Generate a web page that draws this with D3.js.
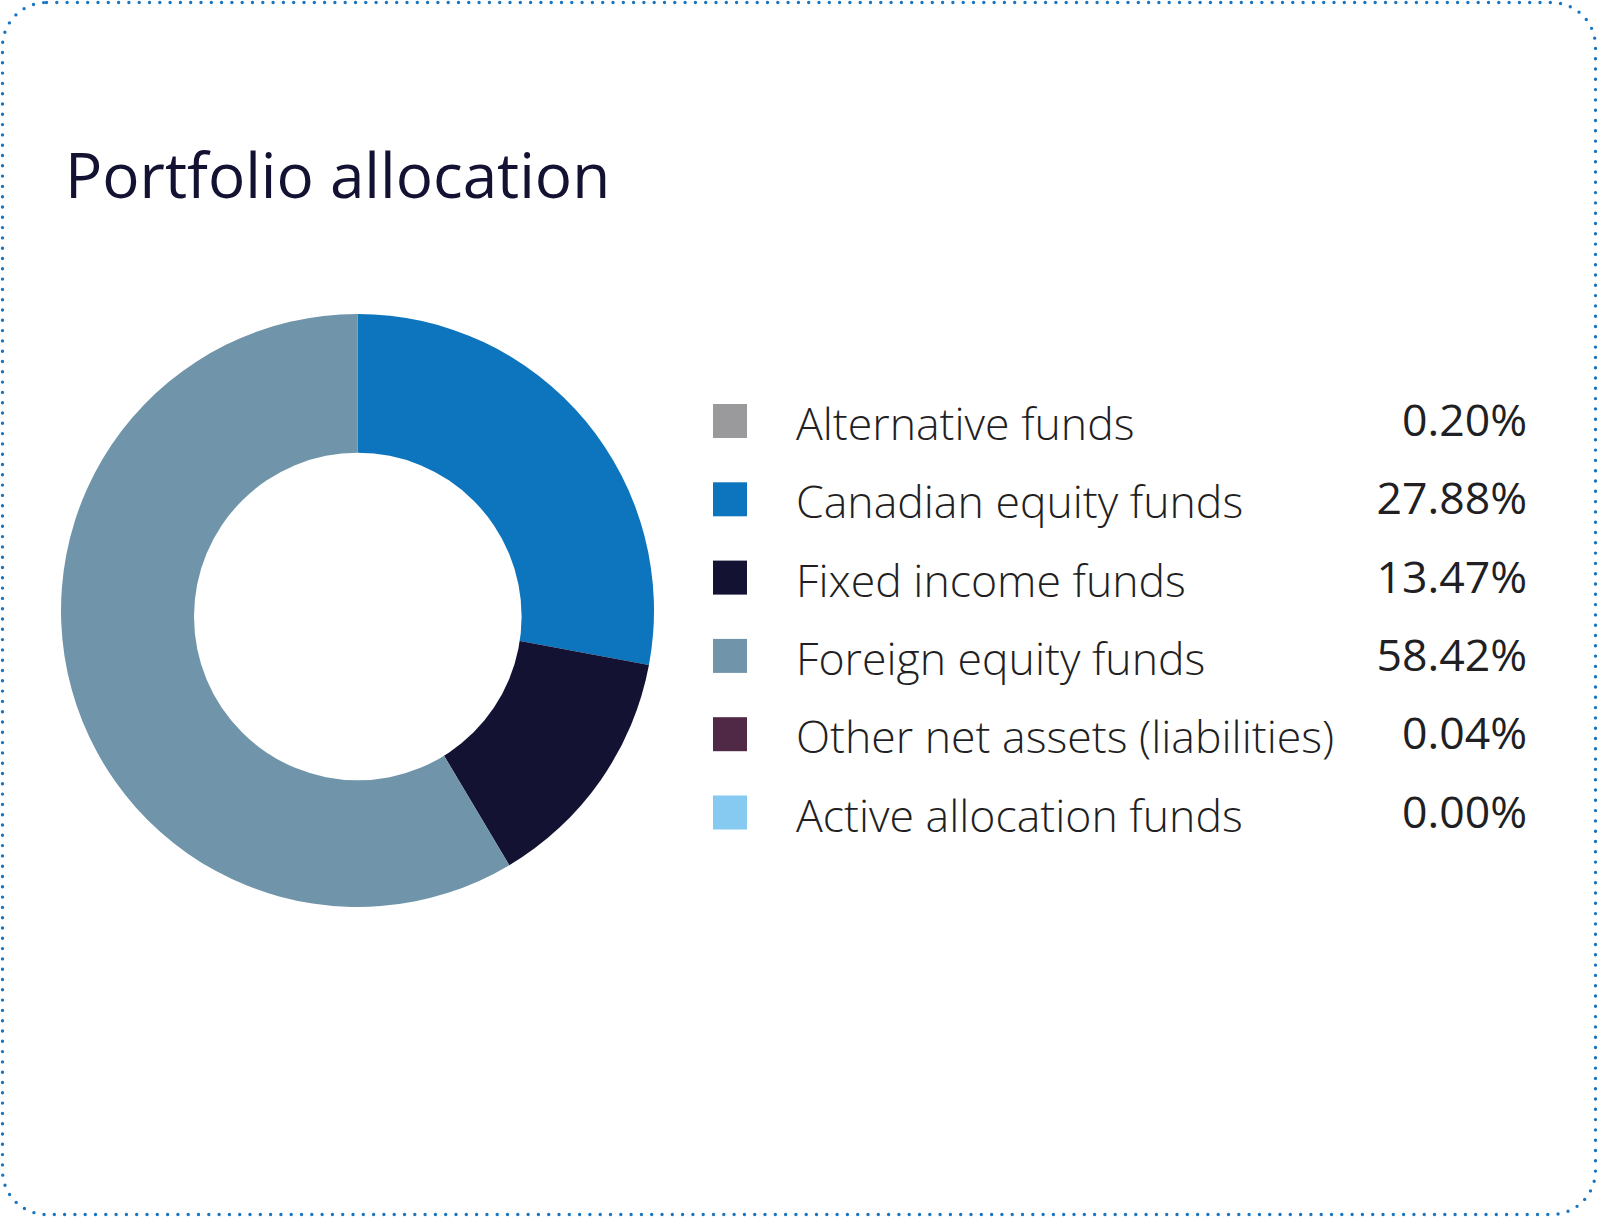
<!DOCTYPE html>
<html>
<head>
<meta charset="utf-8">
<script src="https://cdn.jsdelivr.net/npm/d3@7/dist/d3.min.js"></script>
<style>
  html, body { margin: 0; padding: 0; background: #ffffff; }
  svg { display: block; }
</style>
</head>
<body>
<svg id="chart" width="1598" height="1217"></svg>
<script>
// ---- Data ----
const categories = [
  "Alternative funds",
  "Canadian equity funds",
  "Fixed income funds",
  "Foreign equity funds",
  "Other net assets (liabilities)",
  "Active allocation funds"
];
const values = [0.20, 27.88, 13.47, 58.42, 0.04, 0.00];
const valueLabels = ["0.20%", "27.88%", "13.47%", "58.42%", "0.04%", "0.00%"];
const colors = ["#9a9a9c", "#0d74be", "#131232", "#7094aa", "#4f2946", "#86caf1"];
// slices drawn in the donut (as shown in the reference)
const donutCategories = ["Canadian equity funds", "Fixed income funds", "Foreign equity funds"];
const titleText = "Portfolio allocation";

// ---- Layout ----
const W = 1598, H = 1217;
const svg = d3.select("#chart");

// dotted rounded border
svg.append("rect")
  .attr("x", 2.5).attr("y", 2.5)
  .attr("width", W - 5).attr("height", H - 5)
  .attr("rx", 44).attr("ry", 44)
  .attr("fill", "none")
  .attr("stroke", "#1a75c0")
  .attr("stroke-width", 3.4)
  .attr("stroke-linecap", "round")
  .attr("stroke-dasharray", "0 10.3");

// title
svg.append("text")
  .attr("x", 65).attr("y", 198)
  .attr("font-family", "'Open Sans', 'Noto Sans', sans-serif")
  .attr("font-size", 62)
  .attr("font-weight", 400)
  .attr("fill", "#131232")
  .text(titleText);

// donut
const records = categories.map((c, i) => ({ category: c, value: values[i], color: colors[i], label: valueLabels[i] }));
const donutData = records.filter(d => donutCategories.includes(d.category));
const color = d3.scaleOrdinal().domain(categories).range(colors);
const pie = d3.pie().value(d => d.value).sort(null);
const arc = d3.arc().innerRadius(0).outerRadius(296.5);

const g = svg.append("g").attr("transform", "translate(357.5,610.5)");
g.selectAll("path")
  .data(pie(donutData))
  .join("path")
  .attr("d", arc)
  .attr("fill", d => color(d.data.category));
// donut hole (sits slightly low in the reference)
g.append("circle")
  .attr("cx", 0.3).attr("cy", 6)
  .attr("r", 163.8)
  .attr("fill", "#ffffff");

// legend
const y = d3.scalePoint().domain(categories).range([421, 812.5]);
const legend = svg.append("g");
const rows = legend.selectAll("g")
  .data(records)
  .join("g")
  .attr("transform", d => `translate(0,${y(d.category)})`);

rows.append("rect")
  .attr("x", 713).attr("y", -17)
  .attr("width", 34).attr("height", 34)
  .attr("fill", d => color(d.category));

rows.append("text")
  .attr("x", 796).attr("y", 19)
  .attr("font-family", "'Open Sans', sans-serif")
  .attr("font-weight", 300)
  .attr("font-size", 44.6)
  .attr("fill", "#1f1f24")
  .text(d => d.category);

rows.append("text")
  .attr("x", 1527).attr("y", 15)
  .attr("text-anchor", "end")
  .attr("font-family", "'Open Sans', sans-serif")
  .attr("font-weight", 400)
  .attr("font-size", 44.6)
  .attr("fill", "#1f1f24")
  .text(d => d.label);
</script>
</body>
</html>
